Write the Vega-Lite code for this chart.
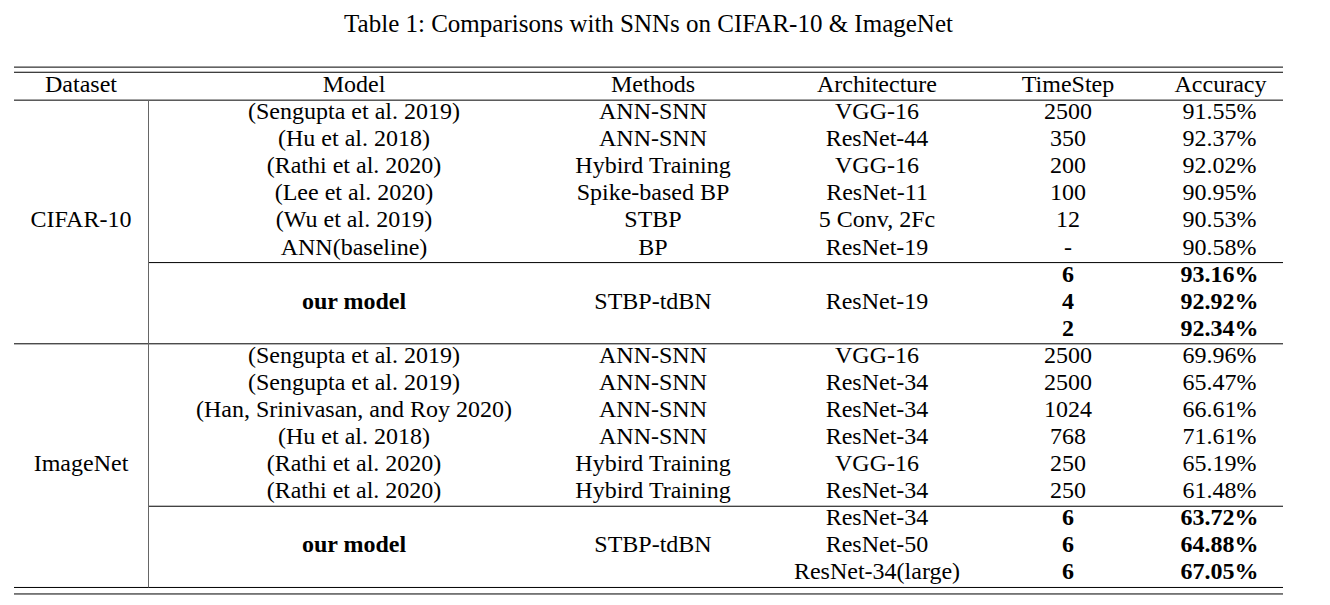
{
  "$schema": "https://vega.github.io/schema/vega-lite/v6.json",
  "background": "white",
  "padding": {"left": 13, "top": 12, "right": 0, "bottom": 0},
  "bounds": "flush",
  "title": {"text": "Table 1: Comparisons with SNNs on CIFAR-10 & ImageNet", "font": "Liberation Serif", "fontSize": 25, "fontWeight": "normal", "color": "black", "anchor": "middle", "offset": 9},
  "spacing": 0,
  "datasets": {
    "table": [
      {"row": 1, "dataset": "CIFAR-10", "model": "(Sengupta et al. 2019)", "method": "ANN-SNN", "arch": "VGG-16", "timestep": "2500", "accuracy": "91.55%", "ours": false},
      {"row": 2, "dataset": "CIFAR-10", "model": "(Hu et al. 2018)", "method": "ANN-SNN", "arch": "ResNet-44", "timestep": "350", "accuracy": "92.37%", "ours": false},
      {"row": 3, "dataset": "CIFAR-10", "model": "(Rathi et al. 2020)", "method": "Hybird Training", "arch": "VGG-16", "timestep": "200", "accuracy": "92.02%", "ours": false},
      {"row": 4, "dataset": "CIFAR-10", "model": "(Lee et al. 2020)", "method": "Spike-based BP", "arch": "ResNet-11", "timestep": "100", "accuracy": "90.95%", "ours": false},
      {"row": 5, "dataset": "CIFAR-10", "model": "(Wu et al. 2019)", "method": "STBP", "arch": "5 Conv, 2Fc", "timestep": "12", "accuracy": "90.53%", "ours": false},
      {"row": 6, "dataset": "CIFAR-10", "model": "ANN(baseline)", "method": "BP", "arch": "ResNet-19", "timestep": "-", "accuracy": "90.58%", "ours": false},
      {"row": 7, "dataset": "CIFAR-10", "model": "our model", "method": "STBP-tdBN", "arch": "ResNet-19", "timestep": "6", "accuracy": "93.16%", "ours": true},
      {"row": 8, "dataset": "CIFAR-10", "model": "our model", "method": "STBP-tdBN", "arch": "ResNet-19", "timestep": "4", "accuracy": "92.92%", "ours": true},
      {"row": 9, "dataset": "CIFAR-10", "model": "our model", "method": "STBP-tdBN", "arch": "ResNet-19", "timestep": "2", "accuracy": "92.34%", "ours": true},
      {"row": 10, "dataset": "ImageNet", "model": "(Sengupta et al. 2019)", "method": "ANN-SNN", "arch": "VGG-16", "timestep": "2500", "accuracy": "69.96%", "ours": false},
      {"row": 11, "dataset": "ImageNet", "model": "(Sengupta et al. 2019)", "method": "ANN-SNN", "arch": "ResNet-34", "timestep": "2500", "accuracy": "65.47%", "ours": false},
      {"row": 12, "dataset": "ImageNet", "model": "(Han, Srinivasan, and Roy 2020)", "method": "ANN-SNN", "arch": "ResNet-34", "timestep": "1024", "accuracy": "66.61%", "ours": false},
      {"row": 13, "dataset": "ImageNet", "model": "(Hu et al. 2018)", "method": "ANN-SNN", "arch": "ResNet-34", "timestep": "768", "accuracy": "71.61%", "ours": false},
      {"row": 14, "dataset": "ImageNet", "model": "(Rathi et al. 2020)", "method": "Hybird Training", "arch": "VGG-16", "timestep": "250", "accuracy": "65.19%", "ours": false},
      {"row": 15, "dataset": "ImageNet", "model": "(Rathi et al. 2020)", "method": "Hybird Training", "arch": "ResNet-34", "timestep": "250", "accuracy": "61.48%", "ours": false},
      {"row": 16, "dataset": "ImageNet", "model": "our model", "method": "STBP-tdBN", "arch": "ResNet-34", "timestep": "6", "accuracy": "63.72%", "ours": true},
      {"row": 17, "dataset": "ImageNet", "model": "our model", "method": "STBP-tdBN", "arch": "ResNet-50", "timestep": "6", "accuracy": "64.88%", "ours": true},
      {"row": 18, "dataset": "ImageNet", "model": "our model", "method": "STBP-tdBN", "arch": "ResNet-34(large)", "timestep": "6", "accuracy": "67.05%", "ours": true}
    ],
    "headers": [
      {"col": "dataset", "label": "Dataset"},
      {"col": "model", "label": "Model"},
      {"col": "method", "label": "Methods"},
      {"col": "arch", "label": "Architecture"},
      {"col": "timestep", "label": "TimeStep"},
      {"col": "accuracy", "label": "Accuracy"}
    ],
    "rules": [
      {"y": -0.72, "span": "full"},
      {"y": -0.53, "span": "full"},
      {"y": 0.5, "span": "full"},
      {"y": 6.5, "span": "part"},
      {"y": 9.5, "span": "full"},
      {"y": 15.5, "span": "part"},
      {"y": 18.5, "span": "full"},
      {"y": 18.74, "span": "full"}
    ],
    "vline": [{"y": 0.5, "y2": 18.5}]
  },
  "hconcat": [
    {
      "width": 134, "height": 555,
      "layer": [
        {"data": {"name": "rules"}, "transform": [{"filter": "datum.span === 'full'"}], "mark": {"type": "rule", "color": "black", "strokeWidth": 1},
         "encoding": {"y": {"field": "y", "type": "quantitative", "scale": {"domain": [-1.5, 19], "reverse": true, "nice": false, "zero": false}, "axis": null}}},
        {"data": {"name": "headers"}, "transform": [{"filter": "datum.col === 'dataset'"}], "mark": {"type": "text"},
         "encoding": {"y": {"datum": 0, "type": "quantitative", "scale": {"domain": [-1.5, 19], "reverse": true, "nice": false, "zero": false}, "axis": null}, "text": {"field": "label"}}},
        {"data": {"name": "table"}, "transform": [{"aggregate": [{"op": "mean", "field": "row", "as": "mrow"}], "groupby": ["dataset"]}], "mark": {"type": "text"},
         "encoding": {"y": {"field": "mrow", "type": "quantitative", "scale": {"domain": [-1.5, 19], "reverse": true, "nice": false, "zero": false}, "axis": null}, "text": {"field": "dataset"}}}
      ]
    },
    {
      "width": 412, "height": 555,
      "layer": [
        {"data": {"name": "rules"}, "mark": {"type": "rule", "color": "black", "strokeWidth": 1},
         "encoding": {"y": {"field": "y", "type": "quantitative", "scale": {"domain": [-1.5, 19], "reverse": true, "nice": false, "zero": false}, "axis": null}}},
        {"data": {"name": "vline"}, "mark": {"type": "rule", "color": "#666666", "strokeWidth": 1},
         "encoding": {"x": {"value": 0.5}, "y": {"field": "y", "type": "quantitative", "scale": {"domain": [-1.5, 19], "reverse": true, "nice": false, "zero": false}, "axis": null}, "y2": {"field": "y2"}}},
        {"data": {"name": "headers"}, "transform": [{"filter": "datum.col === 'model'"}], "mark": {"type": "text"},
         "encoding": {"y": {"datum": 0, "type": "quantitative", "scale": {"domain": [-1.5, 19], "reverse": true, "nice": false, "zero": false}, "axis": null}, "text": {"field": "label"}}},
        {"data": {"name": "table"}, "transform": [{"filter": "!datum.ours"}], "mark": {"type": "text"},
         "encoding": {"y": {"field": "row", "type": "quantitative", "scale": {"domain": [-1.5, 19], "reverse": true, "nice": false, "zero": false}, "axis": null}, "text": {"field": "model"}}},
        {"data": {"name": "table"}, "transform": [{"filter": "datum.ours"}, {"aggregate": [{"op": "mean", "field": "row", "as": "mrow"}], "groupby": ["dataset", "model"]}], "mark": {"type": "text", "fontWeight": "bold"},
         "encoding": {"y": {"field": "mrow", "type": "quantitative", "scale": {"domain": [-1.5, 19], "reverse": true, "nice": false, "zero": false}, "axis": null}, "text": {"field": "model"}}}
      ]
    },
    {
      "width": 186, "height": 555,
      "layer": [
        {"data": {"name": "rules"}, "mark": {"type": "rule", "color": "black", "strokeWidth": 1},
         "encoding": {"y": {"field": "y", "type": "quantitative", "scale": {"domain": [-1.5, 19], "reverse": true, "nice": false, "zero": false}, "axis": null}}},
        {"data": {"name": "headers"}, "transform": [{"filter": "datum.col === 'method'"}], "mark": {"type": "text"},
         "encoding": {"y": {"datum": 0, "type": "quantitative", "scale": {"domain": [-1.5, 19], "reverse": true, "nice": false, "zero": false}, "axis": null}, "text": {"field": "label"}}},
        {"data": {"name": "table"}, "transform": [{"filter": "!datum.ours"}], "mark": {"type": "text"},
         "encoding": {"y": {"field": "row", "type": "quantitative", "scale": {"domain": [-1.5, 19], "reverse": true, "nice": false, "zero": false}, "axis": null}, "text": {"field": "method"}}},
        {"data": {"name": "table"}, "transform": [{"filter": "datum.ours"}, {"aggregate": [{"op": "mean", "field": "row", "as": "mrow"}], "groupby": ["dataset", "method"]}], "mark": {"type": "text"},
         "encoding": {"y": {"field": "mrow", "type": "quantitative", "scale": {"domain": [-1.5, 19], "reverse": true, "nice": false, "zero": false}, "axis": null}, "text": {"field": "method"}}}
      ]
    },
    {
      "width": 262, "height": 555,
      "layer": [
        {"data": {"name": "rules"}, "mark": {"type": "rule", "color": "black", "strokeWidth": 1},
         "encoding": {"y": {"field": "y", "type": "quantitative", "scale": {"domain": [-1.5, 19], "reverse": true, "nice": false, "zero": false}, "axis": null}}},
        {"data": {"name": "headers"}, "transform": [{"filter": "datum.col === 'arch'"}], "mark": {"type": "text"},
         "encoding": {"y": {"datum": 0, "type": "quantitative", "scale": {"domain": [-1.5, 19], "reverse": true, "nice": false, "zero": false}, "axis": null}, "text": {"field": "label"}}},
        {"data": {"name": "table"}, "transform": [{"filter": "!datum.ours"}], "mark": {"type": "text"},
         "encoding": {"y": {"field": "row", "type": "quantitative", "scale": {"domain": [-1.5, 19], "reverse": true, "nice": false, "zero": false}, "axis": null}, "text": {"field": "arch"}}},
        {"data": {"name": "table"}, "transform": [{"filter": "datum.ours"}, {"aggregate": [{"op": "mean", "field": "row", "as": "mrow"}], "groupby": ["dataset", "arch"]}], "mark": {"type": "text"},
         "encoding": {"y": {"field": "mrow", "type": "quantitative", "scale": {"domain": [-1.5, 19], "reverse": true, "nice": false, "zero": false}, "axis": null}, "text": {"field": "arch"}}}
      ]
    },
    {
      "width": 120, "height": 555,
      "layer": [
        {"data": {"name": "rules"}, "mark": {"type": "rule", "color": "black", "strokeWidth": 1},
         "encoding": {"y": {"field": "y", "type": "quantitative", "scale": {"domain": [-1.5, 19], "reverse": true, "nice": false, "zero": false}, "axis": null}}},
        {"data": {"name": "headers"}, "transform": [{"filter": "datum.col === 'timestep'"}], "mark": {"type": "text"},
         "encoding": {"y": {"datum": 0, "type": "quantitative", "scale": {"domain": [-1.5, 19], "reverse": true, "nice": false, "zero": false}, "axis": null}, "text": {"field": "label"}}},
        {"data": {"name": "table"}, "transform": [{"filter": "!datum.ours"}], "mark": {"type": "text"},
         "encoding": {"y": {"field": "row", "type": "quantitative", "scale": {"domain": [-1.5, 19], "reverse": true, "nice": false, "zero": false}, "axis": null}, "text": {"field": "timestep"}}},
        {"data": {"name": "table"}, "transform": [{"filter": "datum.ours"}], "mark": {"type": "text", "fontWeight": "bold"},
         "encoding": {"y": {"field": "row", "type": "quantitative", "scale": {"domain": [-1.5, 19], "reverse": true, "nice": false, "zero": false}, "axis": null}, "text": {"field": "timestep"}}}
      ]
    },
    {
      "width": 155, "height": 555,
      "layer": [
        {"data": {"name": "rules"}, "mark": {"type": "rule", "color": "black", "strokeWidth": 1},
         "encoding": {"y": {"field": "y", "type": "quantitative", "scale": {"domain": [-1.5, 19], "reverse": true, "nice": false, "zero": false}, "axis": null}}},
        {"data": {"name": "headers"}, "transform": [{"filter": "datum.col === 'accuracy'"}], "mark": {"type": "text", "dx": 15},
         "encoding": {"y": {"datum": 0, "type": "quantitative", "scale": {"domain": [-1.5, 19], "reverse": true, "nice": false, "zero": false}, "axis": null}, "text": {"field": "label"}}},
        {"data": {"name": "table"}, "transform": [{"filter": "!datum.ours"}], "mark": {"type": "text", "dx": 14},
         "encoding": {"y": {"field": "row", "type": "quantitative", "scale": {"domain": [-1.5, 19], "reverse": true, "nice": false, "zero": false}, "axis": null}, "text": {"field": "accuracy"}}},
        {"data": {"name": "table"}, "transform": [{"filter": "datum.ours"}], "mark": {"type": "text", "dx": 14, "fontWeight": "bold"},
         "encoding": {"y": {"field": "row", "type": "quantitative", "scale": {"domain": [-1.5, 19], "reverse": true, "nice": false, "zero": false}, "axis": null}, "text": {"field": "accuracy"}}}
      ]
    }
  ],
  "config": {
    "view": {"stroke": null},
    "concat": {"spacing": 0},
    "text": {"font": "Liberation Serif", "fontSize": 24, "color": "black", "dy": -1.5}
  }
}
